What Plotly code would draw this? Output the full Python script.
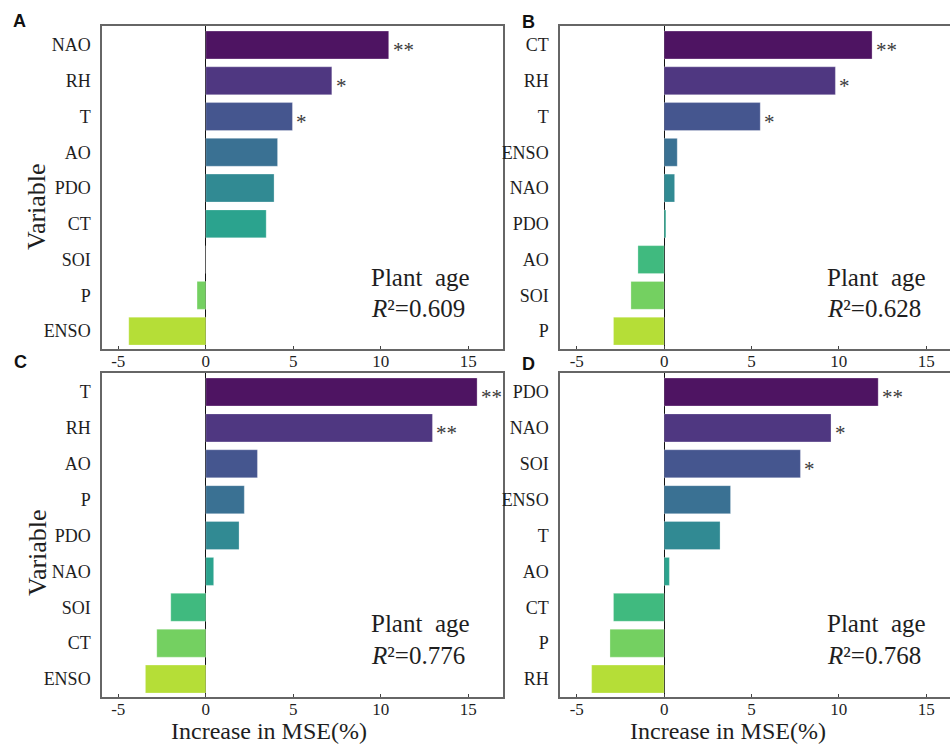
import plotly.graph_objects as go
from plotly.subplots import make_subplots
from plotly.colors import sample_colorscale

# ---------------- data ----------------
panel_labels = ["A", "B", "C", "D"]

vars_A = ["NAO", "RH", "T", "AO", "PDO", "CT", "SOI", "P", "ENSO"]
vals_A = [10.45, 7.2, 4.95, 4.1, 3.9, 3.45, 0.0, -0.5, -4.4]
sig_A = ["**", "*", "*", "", "", "", "", "", ""]

vars_B = ["CT", "RH", "T", "ENSO", "NAO", "PDO", "AO", "SOI", "P"]
vals_B = [11.9, 9.8, 5.5, 0.75, 0.6, 0.1, -1.5, -1.9, -2.9]
sig_B = ["**", "*", "*", "", "", "", "", "", ""]

vars_C = ["T", "RH", "AO", "P", "PDO", "NAO", "SOI", "CT", "ENSO"]
vals_C = [15.5, 12.95, 2.95, 2.2, 1.9, 0.45, -2.0, -2.8, -3.45]
sig_C = ["**", "**", "", "", "", "", "", "", ""]

vars_D = ["PDO", "NAO", "SOI", "ENSO", "T", "AO", "CT", "P", "RH"]
vals_D = [12.25, 9.55, 7.8, 3.8, 3.2, 0.3, -2.9, -3.1, -4.15]
sig_D = ["**", "*", "*", "", "", "", "", "", ""]

r2_values = ["0.609", "0.628", "0.776", "0.768"]
x_ticks = [-5, 0, 5, 10, 15]
# --------------------------------------

W, H = 950, 744
serif = "Liberation Serif"
frame = "#666666"
txt = "#1e1e1e"

panels = [
    (vars_A, vals_A, sig_A),
    (vars_B, vals_B, sig_B),
    (vars_C, vals_C, sig_C),
    (vars_D, vals_D, sig_D),
]

colors = sample_colorscale("Viridis", [0.02 + i * 0.108 for i in range(9)])

fig = make_subplots(rows=2, cols=2)

# pixel geometry of each panel: (left, right, top, bottom)
geom = [
    (102, 503, 26, 349),
    (560, 950, 26, 349),
    (102, 503, 373, 697),
    (560, 950, 373, 697),
]
xranges = [[-5.93, 16.98], [-5.96, 16.36], [-5.93, 16.98], [-5.96, 16.36]]

ann = []
for i, (cats, vals, sig) in enumerate(panels):
    r, c = i // 2 + 1, i % 2 + 1
    fig.add_trace(
        go.Bar(
            y=cats,
            x=vals,
            orientation="h",
            marker=dict(color=colors, opacity=0.95,
                        line=dict(width=0.8, color="rgba(255,255,255,0.35)")),
            width=0.78,
            showlegend=False,
        ),
        row=r, col=c,
    )
    ax = "" if i == 0 else str(i + 1)
    for cat, v, s in zip(cats, vals, sig):
        if s:
            ann.append(dict(text=s, x=v, y=cat, xref="x" + ax, yref="y" + ax,
                            showarrow=False, xanchor="left", yanchor="middle",
                            xshift=2, yshift=-5,
                            font=dict(family=serif, size=21, color="#3a3a3a")))

for i in range(4):
    l, rgt, t, b = geom[i]
    ax = "" if i == 0 else str(i + 1)
    left_panel = i % 2 == 0
    fig.layout["xaxis" + ax].update(
        domain=[l / W, rgt / W],
        range=xranges[i],
        tickvals=x_ticks,
        ticktext=[str(v) for v in x_ticks],
        ticks="inside",
        ticklen=3,
        tickcolor="#444444",
        showline=True,
        linecolor=frame,
        linewidth=1.5,
        mirror=True,
        showgrid=False,
        zeroline=True,
        zerolinecolor="#111111",
        zerolinewidth=1,
        tickfont=dict(family=serif, size=17, color=txt),
        ticklabelstandoff=-4,
        fixedrange=True,
    )
    fig.layout["yaxis" + ax].update(
        domain=[1 - b / H, 1 - t / H],
        autorange="reversed",
        showline=True,
        linecolor=frame,
        linewidth=1.5,
        mirror=left_panel,
        showgrid=False,
        ticks="",
        ticklabelstandoff=6,
        tickfont=dict(family=serif, size=18, color=txt),
        fixedrange=True,
    )

# panel letters
for lab, (x, y) in zip(panel_labels, [(19, 21), (528, 22), (20, 362), (528, 364)]):
    ann.append(dict(text="<b>%s</b>" % lab, x=x / W, y=1 - y / H, xref="paper", yref="paper",
                    showarrow=False, xanchor="center", yanchor="middle",
                    font=dict(family="Liberation Sans", size=18, color="#111111")))
# y titles
for y in [207, 553]:
    ann.append(dict(text="Variable", x=37 / W, y=1 - y / H, xref="paper", yref="paper",
                    showarrow=False, textangle=-90, xanchor="center", yanchor="middle",
                    font=dict(family=serif, size=26, color=txt)))
# x titles
for x in [269, 728]:
    ann.append(dict(text="Increase in MSE(%)", x=x / W, y=0, xref="paper", yref="paper",
                    showarrow=False, xanchor="center", yanchor="bottom", yshift=-2,
                    font=dict(family=serif, size=24, color=txt)))
# Plant age / R2
pos = [(369, 277, 308), (825, 277, 308), (369, 623, 655), (825, 623, 655)]
for (x, y1, y2), r2 in zip(pos, r2_values):
    ann.append(dict(text="Plant\u00a0 age", x=x / W, y=1 - y1 / H, xref="paper", yref="paper",
                    showarrow=False, xanchor="left", yanchor="middle",
                    font=dict(family=serif, size=25, color=txt)))
    ann.append(dict(text="<i>R</i>\u00b2=" + r2, x=x / W, y=1 - y2 / H, xref="paper", yref="paper",
                    showarrow=False, xanchor="left", yanchor="middle",
                    font=dict(family=serif, size=25, color=txt)))

fig.update_layout(
    width=W, height=H,
    margin=dict(l=0, r=0, t=0, b=0),
    paper_bgcolor="white",
    plot_bgcolor="white",
    annotations=ann,
    bargap=0.2,
)

fig.write_html("out.html")
